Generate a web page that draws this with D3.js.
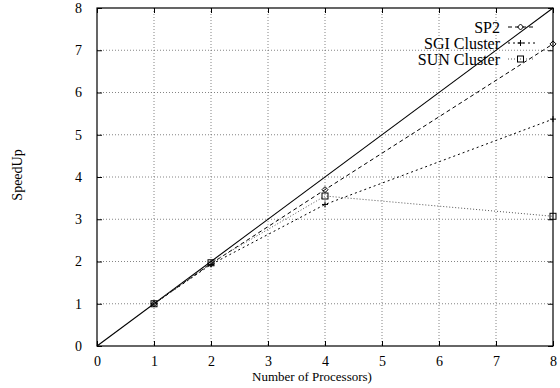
<!DOCTYPE html>
<html>
<head>
<meta charset="utf-8">
<script src="https://cdn.jsdelivr.net/npm/d3@7"></script>
<style>
  body { margin: 0; background: #fff; }
  text { font-family: "Liberation Serif", "DejaVu Serif", serif; }
</style>
</head>
<body>
<div id="chart"></div>
<script>
// values
const processors = [1, 2, 4, 8];
const sp2 = [1, 1.95, 3.7, 7.15];
const sgiCluster = [1, 1.93, 3.35, 5.37];
const sunCluster = [1, 1.97, 3.55, 3.07];
const xTicks = [0, 1, 2, 3, 4, 5, 6, 7, 8];
const yTicks = [0, 1, 2, 3, 4, 5, 6, 7, 8];
const seriesNames = ["SP2", "SGI Cluster", "SUN Cluster"];

const W = 560, H = 388;
const margin = { top: 8, right: 7, bottom: 42, left: 97 };
const width = W - margin.left - margin.right,
      height = H - margin.top - margin.bottom;

const svg = d3.select("#chart").append("svg")
    .attr("width", W).attr("height", H);

const x = d3.scaleLinear().domain([0, 8]).range([0, width]);
const y = d3.scaleLinear().domain([0, 8]).range([height, 0]);

const g = svg.append("g")
    .attr("transform", "translate(" + margin.left + "," + margin.top + ")");

// grid
g.selectAll(".gx").data(xTicks.slice(1, -1)).enter().append("line")
    .attr("x1", d => x(d)).attr("x2", d => x(d))
    .attr("y1", 0).attr("y2", height)
    .attr("stroke", "#666").attr("stroke-width", 0.8).attr("stroke-dasharray", "1,2");
g.selectAll(".gy").data(yTicks.slice(1, -1)).enter().append("line")
    .attr("y1", d => y(d)).attr("y2", d => y(d))
    .attr("x1", 0).attr("x2", width)
    .attr("stroke", "#666").attr("stroke-width", 0.8).attr("stroke-dasharray", "1,2");

// axes, ticks inward on all four sides
const axStyle = sel => {
    sel.select(".domain").remove();
    sel.selectAll("text").attr("font-size", "14px").attr("fill", "#000")
        .attr("font-family", "Liberation Serif, serif");
    sel.selectAll("line").attr("stroke", "#000");
};
g.append("g").attr("transform", "translate(0," + height + ")")
    .call(d3.axisBottom(x).tickValues(xTicks).tickSizeInner(-5).tickSizeOuter(0).tickPadding(10))
    .call(axStyle);
g.append("g")
    .call(d3.axisTop(x).tickValues(xTicks).tickSizeInner(-5).tickSizeOuter(0).tickFormat(""))
    .call(axStyle);
g.append("g")
    .call(d3.axisLeft(y).tickValues(yTicks).tickSizeInner(-5).tickSizeOuter(0).tickPadding(15))
    .call(axStyle);
g.append("g").attr("transform", "translate(" + width + ",0)")
    .call(d3.axisRight(y).tickValues(yTicks).tickSizeInner(-5).tickSizeOuter(0).tickFormat(""))
    .call(axStyle);

// frame
g.append("rect").attr("width", width).attr("height", height)
    .attr("fill", "none").attr("stroke", "#000").attr("stroke-width", 1.2);

// ideal speedup
g.append("line")
    .attr("x1", x(0)).attr("y1", y(0)).attr("x2", x(8)).attr("y2", y(8))
    .attr("stroke", "#000").attr("stroke-width", 1.1);

const series = [
    { name: seriesNames[0], values: sp2, dash: "4,3", color: "#000", marker: "diamond" },
    { name: seriesNames[1], values: sgiCluster, dash: "2,3", color: "#000", marker: "plus" },
    { name: seriesNames[2], values: sunCluster, dash: "1,2", color: "#555", marker: "square" }
];

const line = d3.line().x(d => x(d[0])).y(d => y(d[1]));

function drawMarker(sel, type, cx, cy) {
    const r = 3;
    if (type === "diamond") {
        sel.append("path").attr("d", `M${cx},${cy - r}L${cx + r},${cy}L${cx},${cy + r}L${cx - r},${cy}Z`)
            .attr("fill", "none").attr("stroke", "#000").attr("stroke-width", 1);
    } else if (type === "plus") {
        sel.append("path").attr("d", `M${cx - r},${cy}H${cx + r}M${cx},${cy - r}V${cy + r}`)
            .attr("stroke", "#000").attr("stroke-width", 1);
    } else {
        sel.append("rect").attr("x", cx - r).attr("y", cy - r).attr("width", 2 * r).attr("height", 2 * r)
            .attr("fill", "none").attr("stroke", "#000").attr("stroke-width", 1);
    }
}

series.forEach((s, i) => {
    const pts = processors.map((p, j) => [p, s.values[j]]);
    g.append("path").datum(pts).attr("d", line)
        .attr("fill", "none").attr("stroke", s.color).attr("stroke-width", 1)
        .attr("stroke-dasharray", s.dash);
    pts.forEach(p => drawMarker(g, s.marker, x(p[0]), y(p[1])));

    // legend
    const ly = 27 + i * 16;
    svg.append("text").attr("x", 500).attr("y", ly).attr("dy", "0.35em")
        .attr("text-anchor", "end").attr("font-size", "16px").text(s.name);
    svg.append("line").attr("x1", 508).attr("x2", 535).attr("y1", ly).attr("y2", ly)
        .attr("stroke", s.color).attr("stroke-width", 1).attr("stroke-dasharray", s.dash);
    drawMarker(svg, s.marker, 520.5, ly);
});

// axis titles
svg.append("text").attr("x", 312).attr("y", 381)
    .attr("text-anchor", "middle").attr("font-size", "13px").text("Number of Processors)");
svg.append("text").attr("transform", "translate(22,175) rotate(-90)")
    .attr("text-anchor", "middle").attr("font-size", "14px").text("SpeedUp");
</script>
</body>
</html>
